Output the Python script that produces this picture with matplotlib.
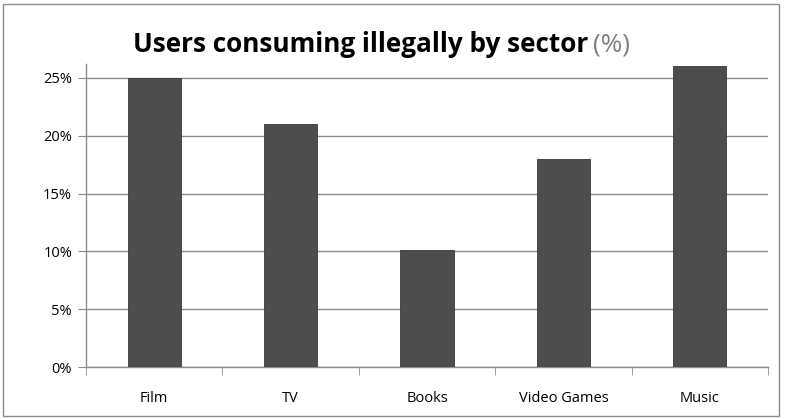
import numpy as np
import matplotlib
matplotlib.use("Agg")
import matplotlib.pyplot as plt
from matplotlib.patches import Rectangle
from matplotlib.ticker import FuncFormatter, FixedLocator

sectors = ['Film', 'TV', 'Books', 'Video Games', 'Music']
share = [25, 21, 10.1, 18, 26]
yticks = [0, 5, 10, 15, 20, 25]

plt.rcParams['font.family'] = ['Open Sans', 'DejaVu Sans']

fig = plt.figure(figsize=(7.85, 4.19), dpi=100)
ax = fig.add_axes([86/785, 52/419, (768-86)/785, (367-64)/419])

x = np.arange(len(sectors))
ax.bar(x, share, width=0.39, color='#4d4d4d', edgecolor='#3a3a3a', linewidth=0.6, zorder=3)

ax.set_xlim(-0.5, len(sectors) - 0.5)
ax.set_ylim(0, 26.2)
ax.set_yticks(yticks)
ax.yaxis.set_major_formatter(FuncFormatter(lambda v, p: '%d%%' % v))
ax.grid(axis='y', color='#8c8c8c', linewidth=1.0, zorder=0)

ax.set_xticks(x)
ax.set_xticklabels(sectors, fontsize=10.5)
ax.xaxis.set_minor_locator(FixedLocator(np.arange(len(sectors) + 1) - 0.5))
ax.tick_params(axis='x', which='major', length=0, pad=17)
ax.tick_params(axis='x', which='minor', length=6, color='#8c8c8c', direction='out')
ax.tick_params(axis='y', length=6, color='#8c8c8c', labelsize=10.5, pad=4)

for s in ['top', 'right']:
    ax.spines[s].set_visible(False)
for s in ['left', 'bottom']:
    ax.spines[s].set_color('#8c8c8c')
    ax.spines[s].set_linewidth(1.0)

fig.patches.append(Rectangle((3/785, 3/419), 776/785, 412/419, transform=fig.transFigure,
                             fill=False, edgecolor='#8c8c8c', linewidth=1.0))

t1 = fig.text(133/785, 1 - 45/419, 'Users consuming illegally by sector', fontsize=18.8,
              fontweight='bold', ha='left', va='center')
fig.canvas.draw()
bb = t1.get_window_extent()
fig.text(bb.x1/785 + 5/785, 1 - 45/419, '(%)', fontsize=18.8, color='#7f7f7f', ha='left', va='center')

fig.savefig('out.png', dpi=100)
